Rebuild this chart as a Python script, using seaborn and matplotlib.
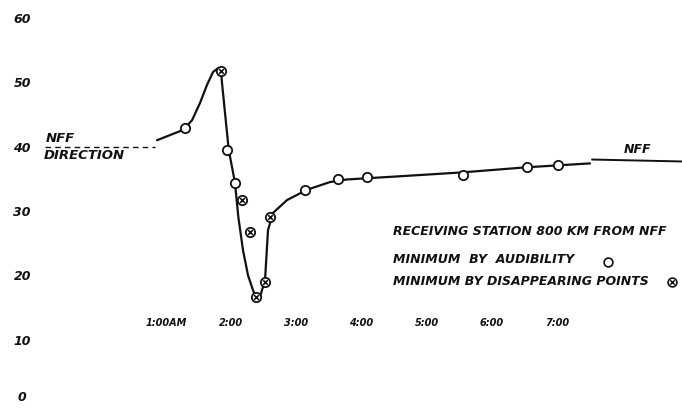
import numpy as np
import pandas as pd
import matplotlib
matplotlib.use("Agg")
import matplotlib.pyplot as plt
import seaborn as sns

# hand drawn curve, hours after midnight vs bearing (degrees)
curve_t = [0.865, 1.064, 1.264, 1.402, 1.525, 1.632, 1.724, 1.801, 1.847, 1.862, 1.965,
           2.061, 2.112, 2.184, 2.261, 2.337, 2.383, 2.445, 2.475, 2.521, 2.567, 2.644,
           2.859, 3.166, 3.518, 3.775, 4.592, 5.543, 6.54, 7.506]
curve_v = [41.0, 41.8, 42.6, 44.1, 46.8, 49.6, 51.6, 52.2, 51.9, 49.9, 39.5,
           34.4, 29.1, 23.9, 20.0, 17.7, 16.6, 16.6, 17.7, 19.1, 27.0, 29.7,
           31.7, 33.3, 34.5, 34.9, 35.4, 36.0, 36.8, 37.4]

# minimum by audibility (open circles)
aud_t = [1.294, 1.934, 2.061, 3.135, 3.646, 4.081, 5.554, 6.544, 7.011]
aud_v = [42.9, 39.5, 34.3, 33.2, 34.9, 35.3, 35.6, 36.8, 37.2]

# minimum by disappearing points (circle with cross)
dis_t = [1.839, 2.164, 2.291, 2.383, 2.521, 2.598]
dis_v = [51.8, 31.7, 26.8, 16.7, 19.0, 29.1]

# NFF direction reference lines
nff_t = [7.537, 8.917]
nff_v = [38.0, 37.7]
dir_t = [-0.853, 0.834]
dir_v = [40.0, 40.0]

hours = [1, 2, 3, 4, 5, 6, 7]
hour_labels = ["1:00AM", "2:00", "3:00", "4:00", "5:00", "6:00", "7:00"]
yticks = [0, 10, 20, 30, 40, 50, 60]

sns.set_style("white")
plt.rcParams['font.family'] = ['DejaVu Sans']
ink = "#111111"
hand = dict(color=ink, fontstyle="italic", fontweight="bold")

fig = plt.figure(figsize=(6.82, 4.09), dpi=100)
ax = fig.add_axes([0, 0, 1, 1])

curve = pd.DataFrame({"t": curve_t, "v": curve_v})
sns.lineplot(data=curve, x="t", y="v", sort=False, color=ink, lw=1.6, ax=ax)
sns.lineplot(x=nff_t, y=nff_v, color=ink, lw=1.4, ax=ax)
sns.lineplot(x=dir_t, y=dir_v, color=ink, lw=1.0, ax=ax, linestyle=(0, (4, 3)))

aud = pd.DataFrame({"t": aud_t, "v": aud_v})
dis = pd.DataFrame({"t": dis_t, "v": dis_v})
sns.scatterplot(data=aud, x="t", y="v", marker="o", s=45, facecolor="white",
                edgecolor=ink, linewidth=1.3, ax=ax, zorder=3)
sns.scatterplot(data=dis, x="t", y="v", marker="o", s=45, facecolor="white",
                edgecolor=ink, linewidth=1.3, ax=ax, zorder=3)
sns.scatterplot(data=dis, x="t", y="v", marker="x", s=11, color=ink,
                linewidth=1.2, ax=ax, zorder=4)

ax.set_xlim(-1.543, 8.917)
ax.set_ylim(-0.78, 62.8)

ax.set_yticks(yticks)
ax.set_yticklabels([str(y) for y in yticks], **hand, fontsize=9)
ax.tick_params(axis="y", length=0, pad=-16)
for lab in ax.get_yticklabels():
    lab.set_horizontalalignment("center")
# keep the bottom "0" inside the canvas
ax.get_yticklabels()[0].set_verticalalignment("bottom")

ax.spines["bottom"].set_position(("data", 13.8))
ax.set_xticks(hours)
ax.set_xticklabels(hour_labels, **hand, fontsize=7)
ax.tick_params(axis="x", length=0, pad=2)
for s in ax.spines.values():
    s.set_visible(False)
ax.set_xlabel("")
ax.set_ylabel("")

ax.text(-0.84, 41.3, "NFF", **hand, fontsize=9.5, va="center")
ax.text(-0.88, 38.7, "DIRECTION", **hand, fontsize=9.5, va="center")
ax.text(8.234, 39.5, "NFF", **hand, fontsize=9, ha="center", va="center")

ax.text(4.485, 26.8, "RECEIVING STATION 800 KM FROM NFF", **hand, fontsize=9, va="center")
ax.text(4.485, 22.4, "MINIMUM  BY  AUDIBILITY", **hand, fontsize=9, va="center")
ax.text(4.485, 19.0, "MINIMUM BY DISAPPEARING POINTS", **hand, fontsize=9, va="center")
ax.scatter([7.782], [22.1], marker="o", s=40, facecolor="white", edgecolor=ink, linewidth=1.2)
ax.scatter([8.759], [19.0], marker="o", s=40, facecolor="white", edgecolor=ink, linewidth=1.2)
ax.scatter([8.759], [19.0], marker="x", s=10, color=ink, linewidth=1.1)

if ax.get_legend():
    ax.get_legend().remove()

fig.savefig("out.png", dpi=100)
